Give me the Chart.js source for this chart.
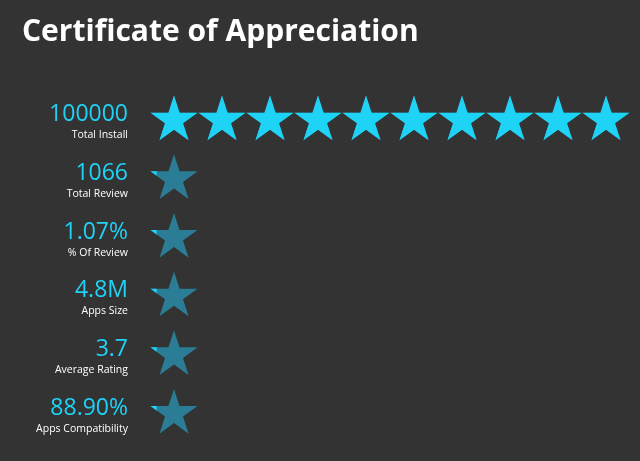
<!DOCTYPE html>
<html>
<head>
<meta charset="utf-8">
<title>Certificate of Appreciation</title>
<script src="https://cdn.jsdelivr.net/npm/chart.js@4.4.1/dist/chart.umd.min.js"></script>
<style>
    html, body { margin: 0; padding: 0; background: #333333; }
    #wrap { width: 640px; height: 461px; position: relative; }
</style>
</head>
<body>
<div id="wrap"><canvas id="certChart"></canvas></div>
<script>
// Dados do gráfico
const captions = ['Total Install', 'Total Review', '% Of Review', 'Apps Size', 'Average Rating', 'Apps Compatibility'];
const values = ['100000', '1066', '1.07%', '4.8M', '3.7', '88.90%'];
const starCount = [10, 1, 1, 1, 1, 1];        // estrelas desenhadas por linha
const starFilled = [10, 0.14, 0.14, 0.14, 0.14, 0.14]; // parte acesa, em estrelas

const CYAN = '#1fd3f7';
const CYAN_DIM = '#2a7d94';
const FONT = '"Open Sans", "Noto Sans", sans-serif';

// Desenha uma estrela de 5 pontas
function starPath(ctx, cx, cy, R) {
    const r = R * 0.382;
    ctx.beginPath();
    for (let i = 0; i < 10; i++) {
        const rad = i % 2 === 0 ? R : r;
        const a = -Math.PI / 2 + i * Math.PI / 5;
        const px = cx + rad * Math.cos(a);
        const py = cy + rad * Math.sin(a);
        if (i === 0) ctx.moveTo(px, py); else ctx.lineTo(px, py);
    }
    ctx.closePath();
}

// Plugin que troca as barras por estrelas e escreve os rótulos
const starPlugin = {
    id: 'stars',
    afterDatasetsDraw(chart) {
        const ctx = chart.ctx;
        const x = chart.scales.x;
        const unit = x.getPixelForValue(1) - x.getPixelForValue(0);
        const R = unit / 1.94;
        const track = chart.getDatasetMeta(0).data;
        const fill = chart.getDatasetMeta(1).data;

        track.forEach((bar, j) => {
            const cy = bar.y + 1;
            // estrelas apagadas
            ctx.save();
            ctx.fillStyle = CYAN_DIM;
            for (let i = 0; i < starCount[j]; i++) {
                starPath(ctx, x.getPixelForValue(i + 0.5), cy, R);
                ctx.fill();
            }
            ctx.restore();

            // parte acesa, recortada pela barra
            const f = fill[j];
            ctx.save();
            ctx.beginPath();
            ctx.rect(f.base, cy - R - 2, f.x - f.base, 2 * R + 4);
            ctx.clip();
            ctx.fillStyle = CYAN;
            for (let i = 0; i < starCount[j]; i++) {
                starPath(ctx, x.getPixelForValue(i + 0.5), cy, R);
                ctx.fill();
            }
            ctx.restore();
        });
    },
    afterDraw(chart) {
        const ctx = chart.ctx;
        const y = chart.scales.y;
        const right = chart.chartArea.left - 22;
        ctx.save();
        ctx.textAlign = 'right';
        ctx.textBaseline = 'alphabetic';
        captions.forEach((c, j) => {
            const py = y.getPixelForValue(j);
            ctx.fillStyle = CYAN;
            ctx.font = '23px ' + FONT;
            ctx.fillText(values[j], right, py + 2);
            ctx.fillStyle = '#ffffff';
            ctx.font = '10.5px ' + FONT;
            ctx.fillText(c, right, py + 19);
        });
        ctx.restore();
    }
};

document.addEventListener('DOMContentLoaded', function() {
    const ctx = document.getElementById('certChart').getContext('2d');
    new Chart(ctx, {
        type: 'bar',
        data: {
            labels: captions,
            datasets: [
                { label: 'total', data: starCount, backgroundColor: 'rgba(0,0,0,0)', grouped: false, barPercentage: 1, categoryPercentage: 1 },
                { label: 'aceso', data: starFilled, backgroundColor: 'rgba(0,0,0,0)', grouped: false, barPercentage: 1, categoryPercentage: 1 }
            ]
        },
        options: {
            indexAxis: 'y',
            responsive: true,
            maintainAspectRatio: false,
            animation: false,
            layout: { padding: { left: 22, right: 10, top: 0, bottom: 19 } },
            scales: {
                x: { display: false, min: 0, max: 10 },
                y: {
                    display: true,
                    ticks: { display: false },
                    grid: { display: false },
                    border: { display: false },
                    afterFit(scale) { scale.width = 128; }
                }
            },
            plugins: {
                legend: { display: false },
                tooltip: { enabled: false },
                title: {
                    display: true,
                    text: 'Certificate of Appreciation',
                    align: 'start',
                    color: '#ffffff',
                    font: { family: FONT, size: 30, weight: 'bold' },
                    padding: { top: 14, bottom: 40 }
                }
            }
        },
        plugins: [starPlugin]
    });
});
</script>
</body>
</html>
